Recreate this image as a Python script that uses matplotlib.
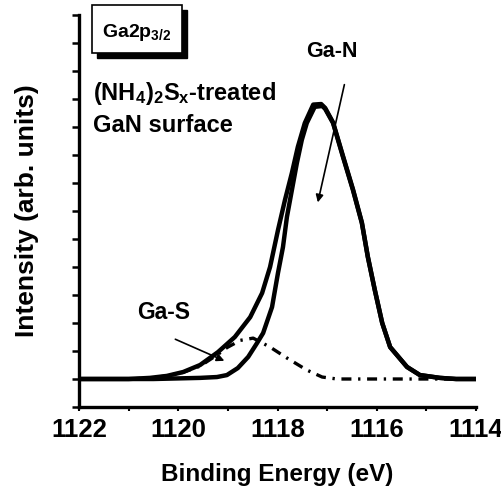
import numpy as np
import matplotlib
matplotlib.use("Agg")
import matplotlib.pyplot as plt
from matplotlib.patches import Rectangle

plt.rcParams['font.family'] = 'Liberation Sans'
plt.rcParams['font.weight'] = 'bold'
plt.rcParams['mathtext.fontset'] = 'custom'
plt.rcParams['mathtext.rm'] = 'Liberation Sans:bold'
plt.rcParams['mathtext.it'] = 'Liberation Sans:bold'
plt.rcParams['mathtext.bf'] = 'Liberation Sans:bold'

# Ga 2p3/2 XPS spectrum, (NH4)2Sx treated GaN
# measured envelope
env_E = [1122.0, 1121.0, 1120.57, 1120.23, 1119.90, 1119.56, 1119.20, 1118.86,
         1118.55, 1118.31, 1118.15, 1117.99, 1117.85, 1117.71, 1117.59, 1117.45,
         1117.28, 1117.12, 1117.04, 1116.88, 1116.68, 1116.48, 1116.30, 1116.18,
         1116.04, 1115.89, 1115.73, 1115.39, 1115.13, 1114.73, 1114.4, 1114.0]
env_I = [0.0, 0.0, 0.04, 0.11, 0.25, 0.50, 0.96, 1.50,
         2.21, 3.07, 4.00, 5.32, 6.39, 7.36, 8.29, 9.14,
         9.80, 9.82, 9.68, 9.16, 7.96, 6.78, 5.59, 4.37,
         3.19, 2.00, 1.14, 0.43, 0.14, 0.04, 0.0, 0.0]

# Ga-N component
gan_E = [1122.0, 1120.5, 1119.56, 1119.22, 1119.02, 1118.80, 1118.59, 1118.41,
         1118.29, 1118.11, 1117.99, 1117.89, 1117.81, 1117.71, 1117.61, 1117.51,
         1117.41, 1117.25, 1117.10, 1117.04, 1116.88, 1116.68, 1116.48, 1116.30,
         1116.18, 1116.04, 1115.89, 1115.73, 1115.39, 1115.13, 1114.73, 1114.4, 1114.0]
gan_I = [0.0, 0.0, 0.04, 0.07, 0.14, 0.39, 0.79, 1.29,
         1.64, 2.57, 3.79, 4.71, 5.79, 6.75, 7.71, 8.54,
         9.14, 9.72, 9.75, 9.65, 9.14, 7.93, 6.75, 5.57,
         4.36, 3.18, 2.00, 1.14, 0.43, 0.14, 0.04, 0.0, 0.0]

# Ga-S component
gas_E = [1122.0, 1121.0, 1120.57, 1120.23, 1119.90, 1119.56, 1119.20, 1119.02,
         1118.75, 1118.49, 1118.15, 1117.81, 1117.41, 1117.10, 1116.8, 1114.0]
gas_I = [0.0, 0.0, 0.04, 0.11, 0.24, 0.46, 0.88, 1.12,
         1.38, 1.46, 1.14, 0.75, 0.32, 0.07, 0.0, 0.0]

x_ticks = [1122, 1120, 1118, 1116, 1114]

fig = plt.figure(figsize=(5.02, 4.93), dpi=100)
ax = fig.add_axes([79 / 502, 86 / 493, 397 / 502, 392 / 493])

ax.plot(gas_E, gas_I, color='k', lw=2.4, dashes=(3, 2, 0.7, 2), zorder=2)
ax.plot(gan_E, gan_I, color='k', lw=3.2, solid_joinstyle='round', zorder=3)
ax.plot(env_E, env_I, color='k', lw=3.2, solid_joinstyle='round', zorder=3)

ax.set_xlim(1122, 1114)
ax.set_ylim(-1, 13)
ax.set_xticks(x_ticks)
ax.set_xticklabels([str(t) for t in x_ticks], fontsize=18.5, fontweight='bold')
ax.set_xticks(np.arange(1114, 1123, 1), minor=True)
ax.set_yticks(np.arange(-1, 14, 1))
ax.set_yticklabels([])

for s in ['top', 'right']:
    ax.spines[s].set_visible(False)
for s in ['left', 'bottom']:
    ax.spines[s].set_linewidth(2.4)
ax.tick_params(axis='x', which='both', direction='out', length=3, width=1.5, pad=5)
ax.tick_params(axis='y', direction='out', length=5, width=1.8)

ax.set_xlabel('Binding Energy (eV)', fontsize=17.5, fontweight='bold', labelpad=15)
ax.set_ylabel('Intensity (arb. units)', fontsize=19, fontweight='bold', labelpad=20)

# labelled box with drop shadow
shadow = Rectangle((0.033 + 0.012, 0.903 - 0.012), 0.226, 0.123, transform=ax.transAxes,
                   facecolor='k', edgecolor='k', clip_on=False, zorder=4)
box = Rectangle((0.033, 0.903), 0.226, 0.123, transform=ax.transAxes,
                facecolor='white', edgecolor='k', lw=1.2, clip_on=False, zorder=5)
ax.add_patch(shadow)
ax.add_patch(box)
ax.text(0.058, 0.944, r'Ga2p$_{\mathregular{3/2}}$', transform=ax.transAxes,
        fontsize=14, fontweight='bold', va='baseline', ha='left', zorder=6)

ax.text(0.035, 0.783, r'(NH$_4$)$_2$S$_x$-treated', transform=ax.transAxes,
        fontsize=17, fontweight='bold', va='baseline', ha='left')
ax.text(0.035, 0.702, 'GaN surface', transform=ax.transAxes,
        fontsize=17, fontweight='bold', va='baseline', ha='left')

ax.text(0.637, 0.908, 'Ga-N', transform=ax.transAxes, fontsize=15.5,
        fontweight='bold', ha='center', va='center')
ax.annotate('', xy=(1117.20, 6.21), xytext=(1116.64, 10.61),
            arrowprops=dict(arrowstyle='-|>', lw=1.2, color='k', mutation_scale=11))

ax.text(0.214, 0.242, 'Ga-S', transform=ax.transAxes, fontsize=16.5,
        fontweight='bold', ha='center', va='center')
ax.annotate('', xy=(1119.02, 0.61), xytext=(1120.11, 1.46),
            arrowprops=dict(arrowstyle='-|>', lw=1.2, color='k', mutation_scale=11))

fig.savefig('out.png', dpi=100)
